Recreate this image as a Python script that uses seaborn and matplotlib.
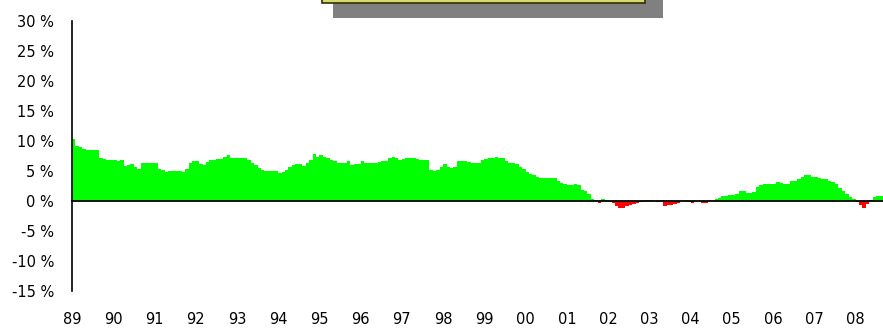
import pandas as pd
import numpy as np
import matplotlib
matplotlib.use("Agg")
import matplotlib.pyplot as plt
from matplotlib.patches import Rectangle
import seaborn as sns

# monthly growth in % (Jan 1989 .. Aug 2008)
growth_89_93 = [
    10.3, 9.2, 9.0, 8.7, 8.5, 8.5, 8.5, 8.5, 7.2, 7.0, 6.8, 6.9,
    6.8, 6.7, 6.8, 5.8, 6.0, 6.1, 5.6, 5.4, 6.4, 6.4, 6.4, 6.4,
    6.3, 5.3, 5.2, 4.8, 5.0, 5.0, 5.0, 5.0, 4.9, 5.4, 6.3, 6.7,
    6.6, 6.2, 6.0, 6.5, 6.8, 6.9, 7.0, 7.0, 7.4, 7.7, 7.2, 7.1,
    7.1, 7.1, 7.1, 6.9, 6.4, 6.0, 5.5, 5.2, 5.0, 5.0, 5.0, 5.0,
]
growth_94_98 = [
    4.7, 4.8, 5.1, 5.6, 6.0, 6.2, 6.1, 5.8, 6.4, 6.8, 7.9, 7.4,
    7.6, 7.3, 7.2, 6.8, 6.6, 6.4, 6.4, 6.4, 6.7, 6.0, 6.1, 6.2,
    6.6, 6.3, 6.3, 6.3, 6.3, 6.5, 6.6, 6.7, 7.1, 7.3, 7.1, 6.9,
    7.0, 7.1, 7.1, 7.1, 7.0, 6.9, 6.9, 6.8, 5.2, 5.0, 5.1, 5.6,
    6.2, 5.6, 5.5, 5.6, 6.6, 6.6, 6.7, 6.5, 6.3, 6.3, 6.4, 6.9,
]
growth_99_03 = [
    7.0, 7.2, 7.2, 7.3, 7.1, 7.2, 6.6, 6.3, 6.3, 6.2, 5.6, 5.3,
    4.8, 4.5, 4.4, 4.0, 3.9, 3.9, 3.9, 3.9, 3.8, 3.4, 3.0, 2.8,
    2.6, 2.6, 2.8, 2.6, 1.9, 1.6, 1.1, 0.4, 0.2, -0.4, 0.3, 0.2,
    -0.1, -0.3, -0.9, -1.2, -1.1, -0.8, -0.7, -0.5, -0.4, -0.2, -0.1, 0.1,
    0.1, 0.0, -0.1, 0.1, -0.8, -0.7, -0.6, -0.5, -0.3, 0.0, 0.1, -0.1,
]
growth_04_08 = [
    -0.4, 0.0, 0.0, -0.4, -0.4, 0.0, 0.0, 0.4, 0.5, 0.9, 0.8, 1.0,
    1.0, 1.2, 1.7, 1.7, 1.4, 1.4, 1.5, 2.4, 2.7, 2.9, 2.8, 2.8,
    2.9, 3.1, 3.0, 2.8, 2.9, 3.3, 3.4, 3.7, 4.0, 4.3, 4.3, 4.0,
    4.0, 3.9, 3.6, 3.6, 3.4, 3.2, 2.8, 2.2, 1.6, 1.2, 0.7, 0.3,
    -0.2, -0.6, -1.2, -0.5, 0.2, 0.7, 0.8, 0.9,
]
year_labels = ["89", "90", "91", "92", "93", "94", "95", "96", "97", "98",
               "99", "00", "01", "02", "03", "04", "05", "06", "07", "08"]
y_ticks = [-15, -10, -5, 0, 5, 10, 15, 20, 25, 30]

values = growth_89_93 + growth_94_98 + growth_99_03 + growth_04_08
df = pd.DataFrame({"month": np.arange(len(values)), "growth": values})
df["sign"] = np.where(df["growth"] >= 0, "pos", "neg")

sns.set_style("white")
plt.rcParams["font.family"] = ["DejaVu Sans"]

W, H = 883, 328
fig = plt.figure(figsize=(W / 100, H / 100), dpi=100)
ax = fig.add_axes([72 / W, 1 - 291 / H, 1 - 72 / W, (291 - 21) / H])

sns.barplot(data=df, x="month", y="growth", hue="sign",
            palette={"pos": "#00ff00", "neg": "#ff0000"}, saturation=1,
            native_scale=True, width=1, dodge=False, legend=False,
            linewidth=0, ax=ax)

ax.set_xlim(-0.5, len(values) - 0.5)
ax.set_ylim(-15, 30)
ax.set_xlabel("")
ax.set_ylabel("")

ax.set_yticks(y_ticks)
ax.set_yticklabels([f"{v} %" for v in y_ticks])
ax.set_xticks([12 * i - 0.5 for i in range(len(year_labels))])
ax.set_xticklabels(year_labels)

for side in ["top", "right"]:
    ax.spines[side].set_visible(False)
ax.spines["left"].set_color("black")
ax.spines["left"].set_linewidth(1.2)
ax.spines["bottom"].set_position(("data", 0))
ax.spines["bottom"].set_color("black")
ax.spines["bottom"].set_linewidth(1.3)
ax.spines["bottom"].set_zorder(5)

ax.tick_params(axis="y", direction="in", length=3, width=1, pad=13,
               labelsize=10.5, colors="black")
ax.tick_params(axis="x", direction="in", length=3, width=1, pad=80,
               labelsize=10.5, colors="black")

# cut-off legend box at the top, with its drop shadow
fig.patches.append(Rectangle((333 / W, 1 - 18 / H), 330 / W, 18 / H,
                             transform=fig.transFigure, facecolor="#808080",
                             edgecolor="none", zorder=1))
fig.patches.append(Rectangle((322 / W, 1 - 3 / H), 323 / W, 10 / H,
                             transform=fig.transFigure, facecolor="#d8d870",
                             edgecolor="#303000", linewidth=1.2, zorder=2))

fig.savefig("out.png", dpi=100)
